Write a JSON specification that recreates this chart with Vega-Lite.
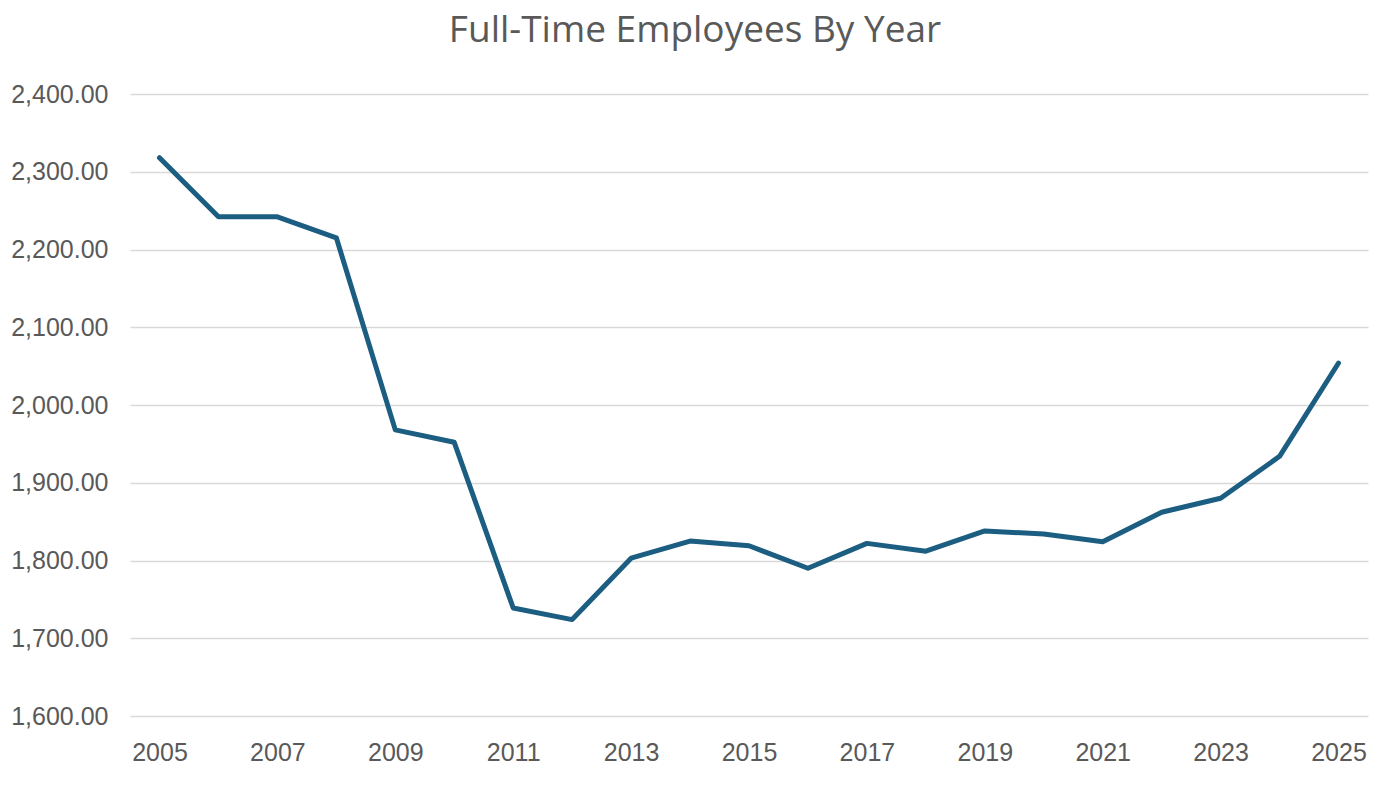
{
  "$schema": "https://vega.github.io/schema/vega-lite/v6.json",
  "autosize": "none",
  "width": 1238,
  "height": 622,
  "padding": {"left": 130, "top": 94, "right": 31, "bottom": 69},
  "background": "white",
  "title": {
    "text": "Full-Time Employees By Year",
    "anchor": "middle",
    "dx": -54,
    "offset": 32,
    "fontSize": 37,
    "font": "Open Sans",
    "fontWeight": "normal",
    "color": "#595959"
  },
  "data": {
    "values": [
      {"year": 2005, "fte": 2318},
      {"year": 2006, "fte": 2242},
      {"year": 2007, "fte": 2242},
      {"year": 2008, "fte": 2215},
      {"year": 2009, "fte": 1968},
      {"year": 2010, "fte": 1952},
      {"year": 2011, "fte": 1739},
      {"year": 2012, "fte": 1724},
      {"year": 2013, "fte": 1803},
      {"year": 2014, "fte": 1825},
      {"year": 2015, "fte": 1819},
      {"year": 2016, "fte": 1790},
      {"year": 2017, "fte": 1822},
      {"year": 2018, "fte": 1812},
      {"year": 2019, "fte": 1838},
      {"year": 2020, "fte": 1834},
      {"year": 2021, "fte": 1824},
      {"year": 2022, "fte": 1862},
      {"year": 2023, "fte": 1880},
      {"year": 2024, "fte": 1934},
      {"year": 2025, "fte": 2054}
    ]
  },
  "mark": {"type": "line", "color": "#1c5d82", "strokeWidth": 5, "strokeJoin": "round", "strokeCap": "round"},
  "encoding": {
    "x": {
      "field": "year",
      "type": "quantitative",
      "scale": {"domain": [2004.5, 2025.5], "nice": false, "zero": false},
      "axis": {
        "title": null,
        "values": [2005, 2007, 2009, 2011, 2013, 2015, 2017, 2019, 2021, 2023, 2025],
        "format": "d",
        "grid": false,
        "domain": false,
        "ticks": false,
        "labelPadding": 24,
        "labelFontSize": 25,
        "labelFont": "Liberation Sans",
        "labelColor": "#595959"
      }
    },
    "y": {
      "field": "fte",
      "type": "quantitative",
      "scale": {"domain": [1600, 2400], "nice": false, "zero": false},
      "axis": {
        "title": null,
        "values": [1600, 1700, 1800, 1900, 2000, 2100, 2200, 2300, 2400],
        "format": ",.2f",
        "grid": true,
        "gridColor": "#d9d9d9",
        "gridWidth": 1.5,
        "domain": false,
        "ticks": false,
        "labelPadding": 22,
        "labelFontSize": 25,
        "labelFont": "Liberation Sans",
        "labelColor": "#595959"
      }
    }
  },
  "config": {"view": {"stroke": null}}
}
